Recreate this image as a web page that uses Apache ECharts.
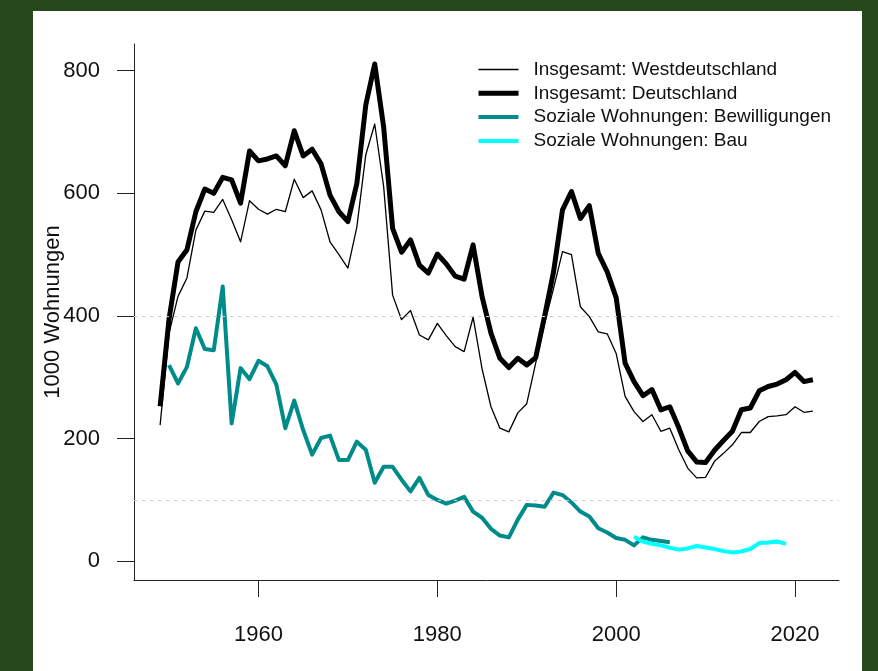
<!DOCTYPE html>
<html>
<head>
<meta charset="utf-8">
<script src="https://cdn.jsdelivr.net/npm/echarts@6/dist/echarts.min.js"></script>
<style>
html,body{margin:0;padding:0;width:878px;height:671px;background:#27481c;overflow:hidden;}
#chart{position:absolute;left:33px;top:11px;width:829px;height:660px;background:#ffffff;}
</style>
</head>
<body>
<div id="chart"></div>
<script>
// ---- data ----
var yearStart = 1949;
var westdeutschland = [222,372,432,462,540,571,569,590,557,521,588,574,566,574,570,623,593,604,573,521,500,478,545,663,713,611,434,394,409,369,361,388,368,350,342,398,314,252,217,211,242,257,323,388,445,505,500,415,399,374,371,339,269,244,228,239,212,217,182,152,136,137,163,176,190,210,210,228,236,237,239,252,243,245];
var deutschland = [253,395,488,508,570,607,600,626,622,584,669,653,656,661,645,702,661,672,648,597,570,554,616,744,811,708,543,504,524,483,470,501,485,465,460,516,432,372,331,316,331,320,332,400,472,573,603,559,580,502,472,430,323,293,270,280,247,252,218,180,162,161,181,197,212,247,250,278,285,289,296,308,293,296];
var bewStart = 1950;
var bewilligungen = [320,290,317,380,346,344,448,225,315,297,327,318,288,217,262,214,174,201,205,165,165,195,182,128,154,154,133,114,136,108,100,94,99,105,81,71,53,42,39,68,92,91,89,112,108,96,81,73,54,47,38,35,26,39,35,33,31];
var bauStart = 2002;
var bau = [40,32,28.5,26,22,19,21,25,22.5,20,16.6,14.4,16,20,29.7,30.7,32.3,28.5];
var xTicks = [1960,1980,2000,2020];
var yTicks = [0,200,400,600,800];
var refLines = [400,100];
var seriesNames = ['Insgesamt: Westdeutschland','Insgesamt: Deutschland','Soziale Wohnungen: Bewilligungen','Soziale Wohnungen: Bau'];

function pairs(start, arr){ return arr.map(function(v,i){ return [start+i, v]; }); }
function plain(v){ return String(v); }

var chart = echarts.init(document.getElementById('chart'));
var txt = '#111111';
var font = 'Liberation Sans, Arial, sans-serif';
chart.setOption({
  animation:false,
  grid:{left:101,right:23,top:33,bottom:91,containLabel:false,outerBoundsMode:'none'},
  xAxis:{type:'value',min:1946.08,max:2024.92,
    axisLine:{show:true,onZero:false,lineStyle:{color:'#222',width:1}},
    axisTick:{show:true,length:17,customValues:xTicks,lineStyle:{color:'#222',width:1}},
    axisLabel:{customValues:xTicks,formatter:plain,margin:44,color:txt,fontSize:22,fontFamily:font},
    splitLine:{show:false}},
  yAxis:{type:'value',min:-30.5,max:843.5,
    name:'1000 Wohnungen',nameLocation:'middle',nameRotate:90,nameGap:70,nameMoveOverlap:false,
    nameTextStyle:{color:txt,fontSize:22,fontFamily:font},
    axisLine:{show:true,onZero:false,lineStyle:{color:'#222',width:1}},
    axisTick:{show:true,length:17,customValues:yTicks,lineStyle:{color:'#222',width:1}},
    axisLabel:{customValues:yTicks,formatter:plain,margin:34,color:txt,fontSize:22,fontFamily:font},
    splitLine:{show:false}},
  legend:{orient:'vertical',left:443,top:49,padding:0,itemWidth:40,itemHeight:14,itemGap:4.8,
    itemStyle:{opacity:0},lineStyle:{width:'inherit'},
    textStyle:{color:txt,fontSize:19,fontFamily:font,lineHeight:19,padding:[0,0,0,10]},
    data:seriesNames},
  series:[
    {name:seriesNames[0],type:'line',symbol:'none',data:pairs(yearStart,westdeutschland),
     lineStyle:{color:'#000',width:1.3,join:'round'},itemStyle:{color:'#000'},z:3,
     markLine:{silent:true,symbol:'none',label:{show:false},
       lineStyle:{color:'#cccccc',width:1,type:[3,5]},
       data:refLines.map(function(v){return {yAxis:v};})}},
    {name:seriesNames[1],type:'line',symbol:'none',data:pairs(yearStart,deutschland),
     lineStyle:{color:'#000',width:5,join:'round'},itemStyle:{color:'#000'},z:2},
    {name:seriesNames[2],type:'line',symbol:'none',data:pairs(bewStart,bewilligungen),
     lineStyle:{color:'#008b8b',width:4,join:'round'},itemStyle:{color:'#008b8b'},z:4},
    {name:seriesNames[3],type:'line',symbol:'none',data:pairs(bauStart,bau),
     lineStyle:{color:'#00ffff',width:4,join:'round'},itemStyle:{color:'#00ffff'},z:5}
  ]
});
</script>
</body>
</html>
